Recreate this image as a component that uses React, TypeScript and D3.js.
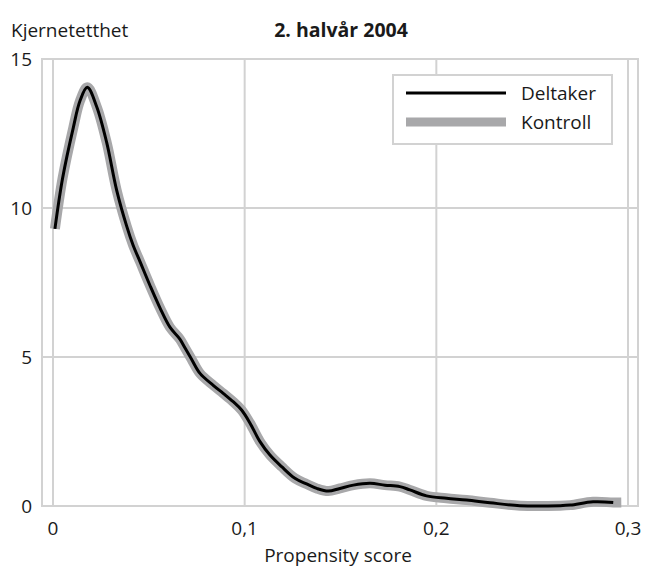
import * as React from "react"
import * as d3 from "d3"

const WIDTH = 646
const HEIGHT = 568

// propensity score (x) and kernel density (y)
const scores = [
  0.001, 0.005, 0.0106, 0.0141, 0.0179, 0.0228, 0.028, 0.0332, 0.0384, 0.0418,
  0.0454, 0.0506, 0.0558, 0.061, 0.0662, 0.0689, 0.0725, 0.0767, 0.0836, 0.0888,
  0.094, 0.0984, 0.1028, 0.108, 0.1132, 0.1193, 0.1262, 0.1323, 0.1376, 0.1436,
  0.1497, 0.1567, 0.1654, 0.1732, 0.181, 0.1862, 0.1949, 0.2053, 0.2158, 0.228,
  0.2436, 0.2645, 0.27, 0.2818, 0.2923,
]
const deltaker = [
  9.3, 11.0, 12.7, 13.6, 14.05, 13.4, 12.2, 10.6, 9.4, 8.75,
  8.2, 7.4, 6.65, 6.0, 5.6, 5.3, 4.9, 4.45, 4.05, 3.78,
  3.5, 3.22, 2.78, 2.16, 1.71, 1.32, 0.93, 0.74, 0.59, 0.5,
  0.59, 0.7, 0.76, 0.7, 0.65, 0.54, 0.34, 0.26, 0.2, 0.11,
  0.01, 0.01, 0.03, 0.14, 0.12,
]
const kontrollScores = [...scores, 0.2965]
const kontroll = [...deltaker, 0.12]

const xTicks = [0, 0.1, 0.2, 0.3]
const yTicks = [0, 5, 10, 15]
const series = ["Deltaker", "Kontroll"]

const FONT = "'Open Sans', sans-serif"
const GRID = "#d2d2d2"
const GREY = "#a8a8aa"

export default function App() {
  const svgRef = React.useRef(null)

  React.useEffect(() => {
    const svg = d3.select(svgRef.current)
    svg.selectAll("*").remove()

    const x = d3.scaleLinear().domain([0, 0.3]).range([53, 628])
    const y = d3.scaleLinear().domain([0, 15]).range([506, 59])
    const left = 42
    const right = 638

    const fmt = (d) => (d === 0 ? "0" : d3.format(".1f")(d).replace(".", ","))

    // frame
    svg
      .append("rect")
      .attr("x", left)
      .attr("y", y(15))
      .attr("width", right - left)
      .attr("height", y(0) - y(15))
      .attr("fill", "none")
      .attr("stroke", GRID)
      .attr("stroke-width", 2)

    svg
      .selectAll(".vgrid")
      .data(xTicks)
      .enter()
      .append("line")
      .attr("x1", d => x(d))
      .attr("x2", d => x(d))
      .attr("y1", y(15))
      .attr("y2", y(0))
      .attr("stroke", GRID)
      .attr("stroke-width", 2)

    svg
      .selectAll(".hgrid")
      .data(yTicks.slice(1, 3))
      .enter()
      .append("line")
      .attr("x1", left)
      .attr("x2", right)
      .attr("y1", d => y(d))
      .attr("y2", d => y(d))
      .attr("stroke", GRID)
      .attr("stroke-width", 2)

    // tick labels
    svg
      .selectAll(".xlab")
      .data(xTicks)
      .enter()
      .append("text")
      .attr("x", d => x(d))
      .attr("y", 535)
      .attr("text-anchor", "middle")
      .style("font", `19px ${FONT}`)
      .attr("fill", "#1a1a1a")
      .text(fmt)

    svg
      .selectAll(".ylab")
      .data(yTicks)
      .enter()
      .append("text")
      .attr("x", 32)
      .attr("y", d => y(d) + 7)
      .attr("text-anchor", "end")
      .style("font", `19px ${FONT}`)
      .attr("fill", "#1a1a1a")
      .text(d => d)

    // lines
    const line = d3
      .line()
      .x(d => x(d[0]))
      .y(d => y(d[1]))
      .curve(d3.curveCatmullRom)

    svg
      .append("path")
      .attr("d", line(kontrollScores.map((s, i) => [s, kontroll[i]])))
      .attr("fill", "none")
      .attr("stroke", GREY)
      .attr("stroke-width", 10)
      .attr("stroke-linejoin", "round")

    svg
      .append("path")
      .attr("d", line(scores.map((s, i) => [s, deltaker[i]])))
      .attr("fill", "none")
      .attr("stroke", "#000")
      .attr("stroke-width", 3)
      .attr("stroke-linejoin", "round")

    // legend
    const lg = svg.append("g")
    lg.append("rect")
      .attr("x", 393)
      .attr("y", 75)
      .attr("width", 219)
      .attr("height", 69)
      .attr("fill", "#fff")
      .attr("stroke", GRID)
      .attr("stroke-width", 2)

    series.forEach((name, i) => {
      const ly = 93 + i * 29
      lg.append("line")
        .attr("x1", 406)
        .attr("x2", 506)
        .attr("y1", ly)
        .attr("y2", ly)
        .attr("stroke", i === 0 ? "#000" : GREY)
        .attr("stroke-width", i === 0 ? 3 : 9)
      lg.append("text")
        .attr("x", 521)
        .attr("y", ly + 7)
        .style("font", `19px ${FONT}`)
        .attr("fill", "#1a1a1a")
        .text(name)
    })

    // titles
    svg
      .append("text")
      .attr("x", 11)
      .attr("y", 37)
      .style("font", `19px ${FONT}`)
      .attr("fill", "#1a1a1a")
      .text("Kjernetetthet")

    svg
      .append("text")
      .attr("x", 341)
      .attr("y", 37)
      .attr("text-anchor", "middle")
      .style("font", `bold 19.5px ${FONT}`)
      .attr("fill", "#1a1a1a")
      .text("2. halvår 2004")

    svg
      .append("text")
      .attr("x", 338)
      .attr("y", 562)
      .attr("text-anchor", "middle")
      .style("font", `19px ${FONT}`)
      .attr("fill", "#1a1a1a")
      .text("Propensity score")
  }, [])

  return (
    <svg
      ref={svgRef}
      width={WIDTH}
      height={HEIGHT}
      style={{ position: "absolute", left: 0, top: 0, background: "#fff" }}
    />
  )
}
